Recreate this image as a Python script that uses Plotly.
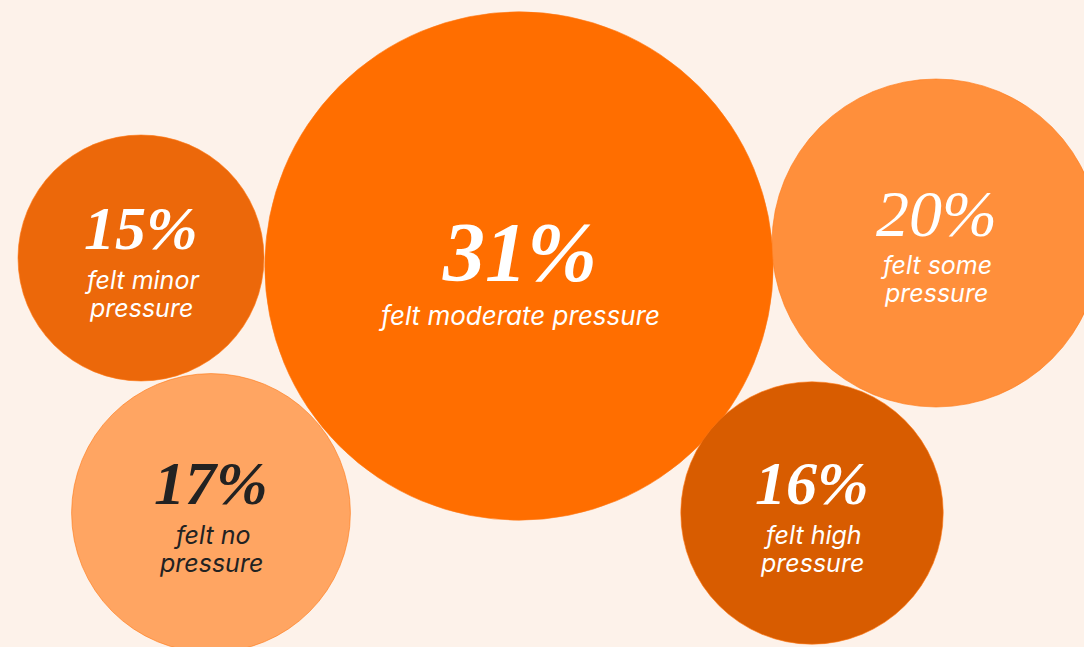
import plotly.graph_objects as go

# Share of respondents by level of felt pressure
labels = ["felt minor<br>pressure", "felt moderate pressure", "felt some<br>pressure",
          "felt no<br>pressure", "felt high<br>pressure"]
values = [15, 31, 20, 17, 16]

# Bubble layout (pixel-like coordinates on a 1084 x 647 canvas)
pos_x = [141, 519, 936, 211, 812]
pos_y = [258, 266, 243, 513, 513]
colors = ["#EC680A", "#FF6E00", "#FF8F3B", "#FFA562", "#D85C00"]
text_colors = ["#FFFFFF", "#FFFFFF", "#FFFFFF", "#222222", "#FFFFFF"]
pct_weights = ["bold", "bold", "normal", "bold", "bold"]
pct_sizes = [62, 84, 66, 62, 62]

BG = "#FDF2EA"
PX_PER_POINT = 16.4  # bubble diameter in px per percentage point
LINE_GAP = 28        # px between caption lines

fig = go.Figure()
fig.add_trace(go.Scatter(
    x=pos_x, y=pos_y, mode="markers",
    marker=dict(size=values, sizemode="diameter", sizeref=1 / PX_PER_POINT,
                color=colors, opacity=1,
                line=dict(width=1, color="rgba(255,120,20,0.6)")),
    hoverinfo="skip", showlegend=False,
))

annotations = []
for i, (x, y, v, lab) in enumerate(zip(pos_x, pos_y, values, labels)):
    big = v == max(values)
    pct_dy = -14 if big else -30
    sub_dy = 49 if big else 22
    annotations.append(dict(
        x=x, y=y + pct_dy, xref="x", yref="y", text=f"{v}%", showarrow=False,
        xanchor="center", yanchor="middle",
        font=dict(family="Liberation Serif", size=pct_sizes[i],
                  color=text_colors[i], style="italic", weight=pct_weights[i]),
    ))
    # caption lines drawn one by one for tighter leading
    for k, line in enumerate(lab.split("<br>")):
        annotations.append(dict(
            x=x, y=y + sub_dy + k * LINE_GAP, xref="x", yref="y", text=line,
            showarrow=False, xanchor="center", yanchor="middle",
            font=dict(family="Inter", size=26 if big else 25,
                      color=text_colors[i], style="italic"),
        ))

fig.update_layout(
    width=1084, height=647,
    margin=dict(l=0, r=0, t=0, b=0),
    paper_bgcolor=BG, plot_bgcolor=BG,
    xaxis=dict(range=[0, 1084], visible=False, fixedrange=True),
    yaxis=dict(range=[647, 0], visible=False, fixedrange=True),
    annotations=annotations,
)

fig.write_html("out.html")
